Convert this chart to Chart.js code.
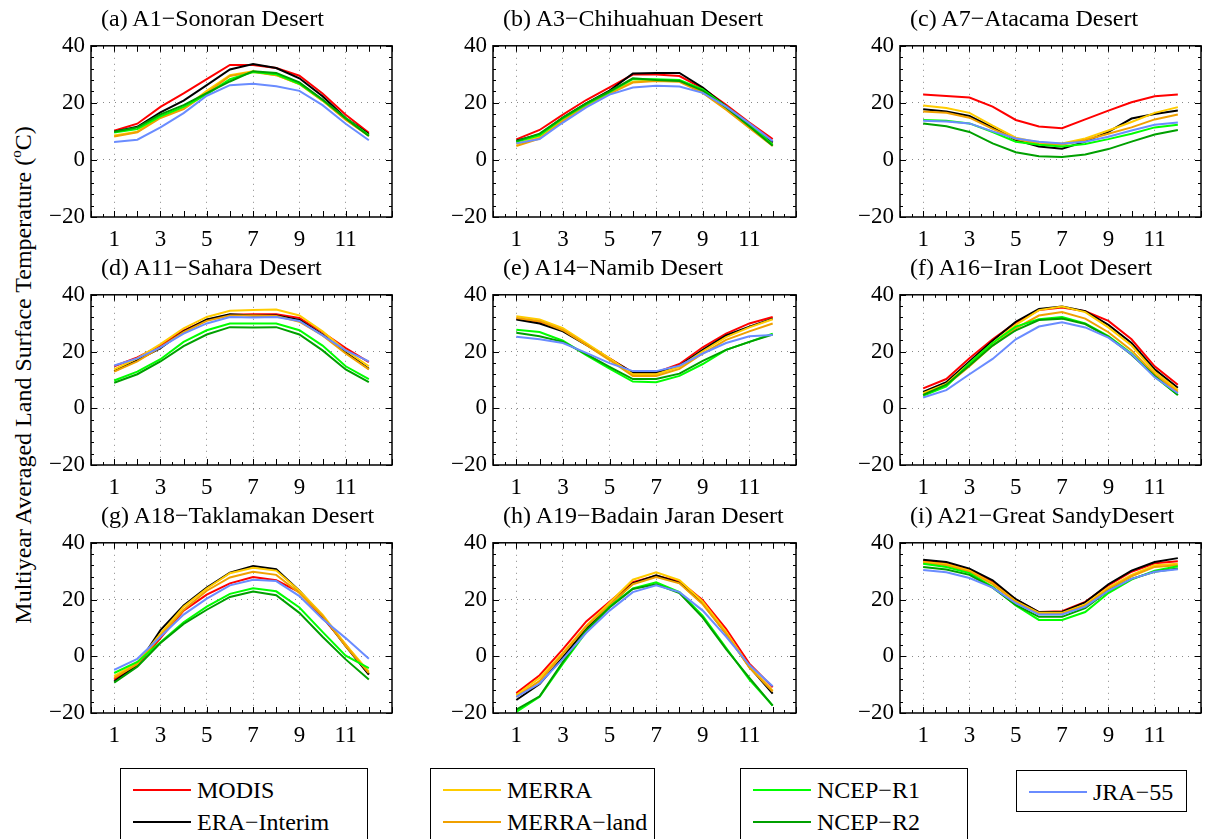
<!DOCTYPE html>
<html><head><meta charset="utf-8">
<script src="https://cdn.jsdelivr.net/npm/chart.js@4"></script>
<style>
html,body{margin:0;padding:0;background:#fff;overflow:hidden;width:1206px;height:839px;position:relative;font-family:"Liberation Serif","Times New Roman",serif;color:#000;}
canvas.panel{position:absolute;}
.title{position:absolute;font-size:24px;white-space:nowrap;line-height:1;}
.ylab{position:absolute;left:22px;top:375px;font-size:24px;white-space:nowrap;transform:translate(-50%,-50%) rotate(-90deg);line-height:1;}
.ylab sup{font-size:15px;vertical-align:10px;}
.lbox{position:absolute;border:1px solid #000;background:#fff;}
.lline{position:absolute;height:2px;}
.ltext{position:absolute;font-size:24px;white-space:nowrap;line-height:1;}
</style>
</head><body>
<div class="ylab">Multiyear Averaged Land Surface Temperature (<sup>o</sup>C)</div>
<script>
// ---- data ----
const months = [1,2,3,4,5,6,7,8,9,10,11,12];
const seriesNames = ['MODIS','ERA\u2212Interim','MERRA','MERRA\u2212land','NCEP\u2212R1','NCEP\u2212R2','JRA\u221255'];
const seriesColors = ['#ff0000','#000000','#ffcc00','#f0a000','#00ff00','#00a000','#6a8cff'];
const panelTitles = ['(a) A1\u2212Sonoran Desert','(b) A3\u2212Chihuahuan Desert','(c) A7\u2212Atacama Desert',
  '(d) A11\u2212Sahara Desert','(e) A14\u2212Namib Desert','(f) A16\u2212Iran Loot Desert',
  '(g) A18\u2212Taklamakan Desert','(h) A19\u2212Badain Jaran Desert','(i) A21\u2212Great SandyDesert'];
const yTickValues = [-20,0,20,40];
const xTickLabels = [1,3,5,7,9,11];

// rows: MODIS, ERA-Interim, MERRA, MERRA-land, NCEP-R1, NCEP-R2, JRA-55
const sonoran = [
  [10.2,12.7,18.6,23.3,28.3,33.3,33.3,32.2,29.5,23.3,15.8,9.5],
  [9.9,11.6,16.7,20.8,26.2,31.7,33.6,32.2,28.6,22.3,14.7,9.1],
  [8.6,9.9,15.3,18.0,24.2,29.7,31.1,29.7,26.6,20.8,14.1,8.6],
  [8.2,9.7,14.7,17.8,23.4,29.4,30.8,29.7,26.6,20.8,14.1,8.4],
  [9.6,10.8,15.3,18.6,23.0,28.3,30.8,30.0,26.7,21.0,14.7,8.6],
  [9.9,11.4,16.0,19.2,23.4,27.5,31.1,30.5,27.2,21.2,14.5,8.4],
  [6.3,7.1,11.4,16.4,22.5,26.2,26.7,25.8,24.2,19.2,12.7,6.9]
];
const chihuahuan = [
  [7.2,10.5,15.9,21.0,25.4,29.9,29.9,29.4,25.1,19.3,13.1,7.3],
  [6.7,8.9,14.8,19.8,24.3,30.3,30.5,30.5,25.4,18.7,12.6,6.1],
  [5.6,8.1,14.0,19.3,23.5,27.4,28.0,27.7,24.0,18.2,11.8,5.3],
  [4.9,7.5,13.7,18.9,23.2,27.1,27.7,27.4,23.5,17.6,11.2,4.9],
  [6.4,8.6,14.6,19.5,23.8,28.3,28.3,28.0,24.7,18.7,12.6,5.3],
  [6.6,9.2,14.8,19.8,24.0,28.6,28.0,27.7,24.3,18.4,11.8,5.0],
  [5.8,7.3,13.1,18.4,22.9,25.4,26.0,25.7,23.5,18.7,12.8,6.6]
];
const atacama = [
  [22.9,22.4,21.9,18.7,14.0,11.7,11.1,14.2,17.3,20.2,22.3,22.9],
  [17.8,17.0,15.4,11.4,7.0,4.7,3.9,6.4,9.8,14.5,16.1,17.3],
  [19.1,18.2,16.5,12.0,7.8,6.1,5.8,7.5,10.3,13.3,16.5,18.5],
  [17.0,16.5,14.8,10.9,7.3,5.6,5.3,7.0,9.2,11.4,14.2,15.9],
  [14.0,13.7,12.8,9.8,6.4,5.3,4.7,5.6,7.3,9.2,11.4,12.3],
  [12.8,11.8,9.8,5.8,2.7,1.3,1.0,1.9,3.8,6.4,8.9,10.5],
  [13.7,13.5,12.8,10.0,7.5,6.4,5.8,6.4,8.1,10.3,12.3,13.1]
];
const sahara = [
  [14.8,17.9,22.1,27.5,31.1,33.0,33.1,33.1,31.8,26.8,21.2,16.3],
  [13.1,17.0,21.2,27.1,31.3,33.1,32.7,32.7,31.1,26.0,19.8,13.9],
  [13.7,17.6,22.6,28.2,32.2,34.4,34.6,34.8,32.7,27.1,20.4,14.8],
  [12.9,16.5,21.5,26.8,30.8,32.7,32.7,32.5,30.5,25.7,19.3,13.7],
  [9.8,12.9,17.3,23.4,27.5,29.9,29.9,29.9,27.5,22.1,14.8,10.3],
  [9.0,12.0,16.5,21.9,26.0,28.6,28.5,28.6,26.0,20.4,13.7,9.2],
  [15.1,17.6,21.5,26.3,29.9,32.2,32.0,32.2,30.8,25.7,20.4,16.5]
];
const namib = [
  [31.6,30.5,27.5,22.6,17.6,12.6,12.6,15.6,21.5,26.3,29.9,32.2],
  [31.3,29.9,27.1,22.3,17.4,12.6,12.6,15.0,20.6,25.7,28.8,31.6],
  [32.4,31.3,28.2,23.0,17.6,12.0,12.0,14.6,20.1,25.1,28.5,31.4],
  [31.8,30.7,27.5,22.3,17.0,11.4,11.4,13.9,19.3,24.1,27.1,29.9],
  [27.7,26.9,23.8,18.7,14.0,9.4,9.2,11.4,15.6,20.6,23.4,26.3],
  [26.6,25.4,23.4,19.1,14.6,10.3,10.3,12.2,16.7,20.6,23.4,26.0],
  [25.2,24.3,23.0,19.5,15.9,13.1,13.1,15.0,19.3,23.0,25.4,25.8]
];
const iranLoot = [
  [7.0,10.3,17.6,24.3,30.2,34.6,35.5,34.2,30.8,24.3,14.8,8.3],
  [5.8,9.2,16.5,23.8,30.5,35.0,35.9,34.2,29.4,23.0,13.7,7.2],
  [5.3,8.6,15.9,23.0,29.4,34.6,35.9,33.9,28.5,22.1,12.9,6.4],
  [4.7,8.1,14.8,22.1,28.2,32.7,33.9,31.6,26.8,20.4,12.0,5.8],
  [4.4,7.7,15.9,23.0,28.8,31.4,32.2,29.9,25.4,19.3,11.1,4.7],
  [4.7,8.3,15.1,22.1,27.5,31.1,31.6,29.7,25.2,18.9,11.4,4.7],
  [3.8,6.4,12.0,17.4,24.3,28.8,30.3,28.5,24.9,19.1,10.9,5.3]
];
const taklamakan = [
  [-8.2,-3.1,6.4,16.1,21.7,25.7,27.9,26.8,22.6,13.6,4.1,-6.3],
  [-8.9,-3.1,9.2,17.9,24.2,29.5,31.8,30.7,23.1,14.2,3.6,-6.5],
  [-7.0,-2.2,8.0,17.5,23.9,29.3,31.2,30.2,23.1,14.7,4.1,-5.4],
  [-7.6,-2.8,7.2,16.4,23.1,27.8,29.8,28.7,22.3,14.2,3.6,-5.9],
  [-5.9,-2.0,4.9,12.0,17.5,22.0,24.0,22.9,17.2,8.6,0.2,-4.2],
  [-9.3,-3.7,4.7,11.4,16.4,20.9,22.8,21.5,15.3,6.9,-1.1,-8.2],
  [-4.8,-0.9,6.9,14.7,20.3,25.0,27.0,26.5,21.2,13.1,6.4,-0.9]
];
const badainJaran = [
  [-13.0,-6.7,2.5,12.3,19.2,26.1,28.4,26.5,19.8,9.7,-2.6,-10.9],
  [-15.4,-9.8,-0.3,9.7,17.9,25.7,28.5,25.9,18.7,8.0,-3.7,-13.2],
  [-13.7,-7.6,1.3,10.8,18.9,27.0,29.6,26.8,19.2,8.6,-3.7,-12.1],
  [-14.3,-8.7,0.8,10.5,18.1,25.4,27.9,25.7,18.3,8.0,-4.0,-12.4],
  [-19.6,-14.3,-2.6,8.6,17.5,23.9,26.1,22.6,14.2,3.0,-8.2,-17.4],
  [-18.8,-14.1,-2.0,9.2,17.2,23.7,25.4,22.3,13.6,2.5,-7.6,-17.4],
  [-14.3,-9.6,-0.9,8.3,16.1,22.6,25.0,22.6,16.1,6.9,-3.1,-10.6]
];
const greatSandy = [
  [33.7,32.6,30.4,26.1,20.0,15.6,15.9,19.2,25.0,29.8,32.8,33.5],
  [34.0,33.2,30.9,26.8,20.1,15.6,15.6,19.0,25.4,30.2,33.2,34.6],
  [33.2,32.4,30.2,25.7,19.4,15.3,15.3,18.3,24.2,28.7,32.1,32.6],
  [32.8,32.1,29.8,25.4,19.2,15.0,15.0,17.9,23.7,28.2,31.5,32.1],
  [32.6,31.5,29.3,24.5,17.9,12.8,12.8,15.6,22.3,27.0,30.2,31.7],
  [31.5,30.6,28.7,24.2,18.1,13.9,13.9,17.0,23.1,27.3,29.8,30.9],
  [30.4,29.6,27.6,24.2,18.7,14.7,14.7,17.5,23.1,27.3,29.8,30.7]
];
const panelData = [sonoran, chihuahuan, atacama, sahara, namib, iranLoot, taklamakan, badainJaran, greatSandy];

// ---- layout ----
const colLeft = [91, 493, 900];
const colWidth = [307, 309, 307];
const rowTop = [38, 287, 535];
const rowHeight = [179, 178, 178];
const YAXW = 51, XAXH = 34, PADT = 12, PADR = 3;
const FONT = '"Liberation Serif","Times New Roman",serif';

const framePlugin = {
  id: 'frameTicks',
  afterDraw(chart) {
    const {ctx, chartArea: a, scales: {x, y}} = chart;
    ctx.save();
    ctx.strokeStyle = '#000';
    ctx.lineWidth = 1;
    ctx.beginPath();
    for (let v = -20; v <= 40; v += 4) {
      const py = Math.round(y.getPixelForValue(v)) + 0.5;
      const L = (v % 20 === 0) ? 6 : 3;
      ctx.moveTo(a.left, py); ctx.lineTo(a.left + L, py);
      ctx.moveTo(a.right, py); ctx.lineTo(a.right - L, py);
    }
    for (let v = 0; v <= 13; v += 0.5) {
      const px = Math.round(x.getPixelForValue(v)) + 0.5;
      const L = Number.isInteger(v) ? 6 : 3;
      ctx.moveTo(px, a.top); ctx.lineTo(px, a.top + L);
      ctx.moveTo(px, a.bottom); ctx.lineTo(px, a.bottom - L);
    }
    ctx.stroke();
    ctx.lineWidth = 1.5;
    ctx.strokeRect(a.left, a.top, a.right - a.left, a.bottom - a.top);
    ctx.restore();
  }
};

panelData.forEach((rows, p) => {
  const r = Math.floor(p / 3), c = p % 3;
  const L = colLeft[c] - YAXW, T = rowTop[r] - PADT;
  const W = YAXW + colWidth[c] + PADR, H = PADT + rowHeight[r] + XAXH;
  const cv = document.createElement('canvas');
  cv.className = 'panel';
  cv.width = W; cv.height = H;
  cv.style.left = L + 'px'; cv.style.top = T + 'px';
  cv.style.width = W + 'px'; cv.style.height = H + 'px';
  document.body.appendChild(cv);

  const t = document.createElement('div');
  t.className = 'title';
  t.textContent = panelTitles[p];
  t.style.left = (colLeft[c] + 10) + 'px';
  t.style.top = (rowTop[r] - 32) + 'px';
  document.body.appendChild(t);

  const datasets = rows.map((vals, i) => ({
    label: seriesNames[i],
    data: months.map((m, k) => ({x: m, y: vals[k]})),
    borderColor: seriesColors[i],
    backgroundColor: seriesColors[i],
    borderWidth: 2,
    pointRadius: 0,
    tension: 0,
    fill: false,
    order: 7 - i
  }));

  new Chart(cv, {
    type: 'line',
    data: {datasets},
    plugins: [framePlugin],
    options: {
      responsive: false,
      animation: false,
      events: [],
      layout: {padding: {top: PADT, right: PADR, left: 0, bottom: 0}},
      plugins: {legend: {display: false}, tooltip: {enabled: false}, title: {display: false}},
      scales: {
        x: {
          type: 'linear', min: 0, max: 13,
          afterFit(s) { s.height = XAXH; },
          afterBuildTicks(s) { s.ticks = months.concat([0, 13]).sort((a, b) => a - b).map(v => ({value: v})); },
          ticks: {
            autoSkip: false, maxRotation: 0, padding: 9, color: '#000',
            font: {family: FONT, size: 23},
            callback: v => xTickLabels.includes(v) ? String(v) : ''
          },
          border: {display: false, dash: [1, 5]},
          grid: {
            drawTicks: false,
            lineWidth: 1,
            color: ctx => (ctx.tick && xTickLabels.includes(ctx.tick.value)) ? '#888888' : 'rgba(0,0,0,0)'
          }
        },
        y: {
          min: -20, max: 40,
          afterFit(s) { s.width = YAXW; },
          afterBuildTicks(s) { s.ticks = yTickValues.map(v => ({value: v})); },
          ticks: {
            padding: 6, color: '#000',
            font: {family: FONT, size: 23},
            callback: v => String(v).replace('-', '\u2212')
          },
          border: {display: false, dash: [1, 5]},
          grid: {
            drawTicks: false,
            lineWidth: 1,
            color: ctx => (ctx.tick && (ctx.tick.value === 0 || ctx.tick.value === 20)) ? '#888888' : 'rgba(0,0,0,0)'
          }
        }
      }
    }
  });
});

// ---- legend ----
const legendBoxes = [
  {left: 120, top: 768, width: 246, height: 90, items: [0, 1]},
  {left: 430, top: 768, width: 223, height: 90, items: [2, 3]},
  {left: 740, top: 768, width: 226, height: 90, items: [4, 5]},
  {left: 1016, top: 770, width: 169, height: 40, items: [6]}
];
legendBoxes.forEach(b => {
  const box = document.createElement('div');
  box.className = 'lbox';
  box.style.left = b.left + 'px'; box.style.top = b.top + 'px';
  box.style.width = b.width + 'px'; box.style.height = b.height + 'px';
  document.body.appendChild(box);
  b.items.forEach((si, j) => {
    const cy = b.top + 22 + j * 32;
    const ln = document.createElement('div');
    ln.className = 'lline';
    ln.style.left = (b.left + 13) + 'px'; ln.style.top = (cy - 1) + 'px';
    ln.style.width = '58px'; ln.style.background = seriesColors[si];
    document.body.appendChild(ln);
    const tx = document.createElement('div');
    tx.className = 'ltext';
    tx.textContent = seriesNames[si];
    tx.style.left = (b.left + 77) + 'px'; tx.style.top = (cy - 12) + 'px';
    document.body.appendChild(tx);
  });
});
</script>
</body></html>
